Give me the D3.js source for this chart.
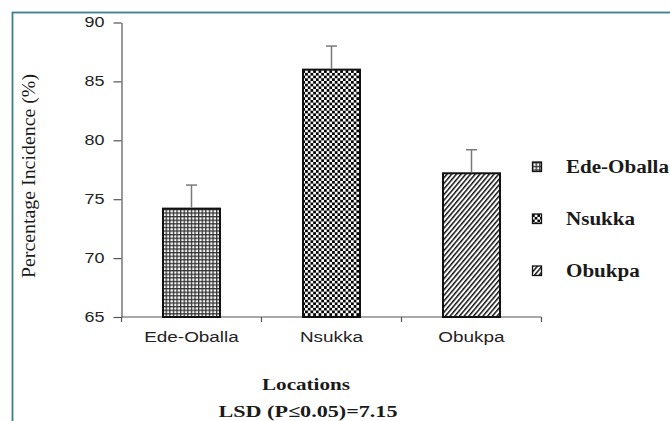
<!DOCTYPE html>
<html>
<head>
<meta charset="utf-8">
<script src="https://cdn.jsdelivr.net/npm/d3@7"></script>
<style>
  html, body { margin: 0; padding: 0; background: #fff; }
  svg { display: block; }
</style>
</head>
<body>
<svg id="chart" width="670" height="421"></svg>
<script>
// Percentage incidence by location, with upper error bars (SE)
const categories = ["Ede-Oballa", "Nsukka", "Obukpa"];
const values = [74.2, 86.0, 77.2];
const errors = [2.0, 2.0, 2.0];
const yTicks = [65, 70, 75, 80, 85, 90];
const patternIds = ["grid", "checker", "diag"];

const svg = d3.select("#chart");
const W = 670, H = 421;

// Plot area
const plot = { left: 121.5, right: 541.5, top: 22.5, bottom: 317 };

const x = d3.scaleBand().domain(categories).range([plot.left, plot.right])
  .paddingInner(0.593).paddingOuter(0.2965);
const y = d3.scaleLinear().domain([65, 90]).range([plot.bottom, plot.top]);

// Horizontal widening applied to text
function stretch(sel, k) {
  sel.each(function () {
    const len = this.getComputedTextLength();
    this.setAttribute("textLength", (len * k).toFixed(2));
    this.setAttribute("lengthAdjust", "spacingAndGlyphs");
  });
}
function fitTo(sel, w) {
  sel.attr("textLength", w).attr("lengthAdjust", "spacingAndGlyphs");
}

// Fill patterns
const defs = svg.append("defs");
const pg = defs.append("pattern").attr("id", "grid").attr("patternUnits", "userSpaceOnUse")
  .attr("width", 3.6).attr("height", 3.6);
pg.append("rect").attr("width", 3.6).attr("height", 3.6).attr("fill", "#fff");
pg.append("rect").attr("width", 1.3).attr("height", 3.6).attr("fill", "#333");
pg.append("rect").attr("width", 3.6).attr("height", 1.3).attr("fill", "#333");

const pc = defs.append("pattern").attr("id", "checker").attr("patternUnits", "userSpaceOnUse")
  .attr("width", 5.4).attr("height", 5.4);
pc.append("rect").attr("width", 5.4).attr("height", 5.4).attr("fill", "#fff");
pc.append("rect").attr("width", 2.7).attr("height", 2.7).attr("fill", "#000");
pc.append("rect").attr("x", 2.7).attr("y", 2.7).attr("width", 2.7).attr("height", 2.7).attr("fill", "#000");

const pd = defs.append("pattern").attr("id", "diag").attr("patternUnits", "userSpaceOnUse")
  .attr("width", 3.6).attr("height", 10).attr("patternTransform", "rotate(40)");
pd.append("rect").attr("width", 3.6).attr("height", 10).attr("fill", "#fff");
pd.append("rect").attr("width", 1.5).attr("height", 10).attr("fill", "#111");

// Outer frame
svg.append("rect")
  .attr("x", 12.5).attr("y", 12.5).attr("width", W + 20).attr("height", H + 20)
  .attr("fill", "none").attr("stroke", "#3a7f92").attr("stroke-width", 1.8);

// Y axis
const yAxis = svg.append("g")
  .attr("transform", `translate(${plot.left},0)`)
  .call(d3.axisLeft(y).tickValues(yTicks).tickSize(8).tickSizeOuter(0).tickPadding(9));
yAxis.select(".domain").attr("stroke", "#555").attr("stroke-width", 1.2);
yAxis.selectAll(".tick line").attr("stroke", "#555").attr("stroke-width", 1.2);
yAxis.selectAll(".tick text")
  .attr("font-family", "Liberation Sans, Arial, sans-serif")
  .attr("font-size", 14).attr("fill", "#222");
stretch(yAxis.selectAll(".tick text"), 1.28);

// X axis: baseline with ticks at category boundaries
const step = x.step();
const bounds = d3.range(categories.length + 1).map(i => x.range()[0] + i * step);
svg.append("line")
  .attr("x1", plot.left).attr("x2", plot.right).attr("y1", y(65)).attr("y2", y(65))
  .attr("stroke", "#555").attr("stroke-width", 1.2);
svg.append("g").selectAll("line").data(bounds).join("line")
  .attr("x1", d => d).attr("x2", d => d)
  .attr("y1", y(65)).attr("y2", y(65) + 5)
  .attr("stroke", "#555").attr("stroke-width", 1.2);
const xl = svg.append("g").selectAll("text").data(categories).join("text")
  .attr("x", d => x(d) + x.bandwidth() / 2).attr("y", 342)
  .attr("text-anchor", "middle")
  .attr("font-family", "Liberation Sans, Arial, sans-serif")
  .attr("font-size", 15.5).attr("fill", "#222")
  .text(d => d);
stretch(xl, 1.22);

// Bars
svg.append("g").selectAll("rect").data(categories).join("rect")
  .attr("x", d => x(d))
  .attr("y", (d, i) => y(values[i]))
  .attr("width", x.bandwidth())
  .attr("height", (d, i) => y(65) - y(values[i]))
  .attr("fill", (d, i) => `url(#${patternIds[i]})`)
  .attr("stroke", "#111").attr("stroke-width", 2);

// Error bars (upper)
const eb = svg.append("g").attr("stroke", "#7a7a7a").attr("stroke-width", 1.5);
eb.selectAll("line.v").data(categories).join("line").attr("class", "v")
  .attr("x1", d => x(d) + x.bandwidth() / 2).attr("x2", d => x(d) + x.bandwidth() / 2)
  .attr("y1", (d, i) => y(values[i]) - 1).attr("y2", (d, i) => y(values[i] + errors[i]));
eb.selectAll("line.c").data(categories).join("line").attr("class", "c")
  .attr("x1", d => x(d) + x.bandwidth() / 2 - 5.5).attr("x2", d => x(d) + x.bandwidth() / 2 + 5.5)
  .attr("y1", (d, i) => y(values[i] + errors[i])).attr("y2", (d, i) => y(values[i] + errors[i]));

// Legend
const legend = svg.append("g").attr("transform", "translate(532,0)");
const li = legend.selectAll("g").data(categories).join("g")
  .attr("transform", (d, i) => `translate(0,${173 + i * 52})`);
li.append("rect")
  .attr("x", 0.5).attr("y", -11).attr("width", 9).attr("height", 9.5)
  .attr("fill", (d, i) => `url(#${patternIds[i]})`)
  .attr("stroke", "#111").attr("stroke-width", 1.3);
const lt = li.append("text")
  .attr("x", 34).attr("y", 0)
  .attr("font-family", "Liberation Serif, Times New Roman, serif")
  .attr("font-weight", "bold").attr("font-size", 18).attr("fill", "#1a1a1a")
  .text(d => d);
stretch(lt, 1.17);

// Axis titles
const yt = svg.append("text")
  .attr("transform", "translate(34.5,176) rotate(-90)")
  .attr("text-anchor", "middle")
  .attr("font-family", "Liberation Serif, Times New Roman, serif")
  .attr("font-size", 18).attr("fill", "#1a1a1a")
  .text("Percentage Incidence (%)");
fitTo(yt, 204);

const xt = svg.append("text")
  .attr("x", 306).attr("y", 390).attr("text-anchor", "middle")
  .attr("font-family", "Liberation Serif, Times New Roman, serif")
  .attr("font-weight", "bold").attr("font-size", 17.5).attr("fill", "#1a1a1a")
  .text("Locations");
fitTo(xt, 88);

const lsd = svg.append("text")
  .attr("x", 308).attr("y", 416.5).attr("text-anchor", "middle")
  .attr("font-family", "Liberation Serif, Times New Roman, serif")
  .attr("font-weight", "bold").attr("font-size", 17).attr("fill", "#1a1a1a")
  .text("LSD (P≤0.05)=7.15");
fitTo(lsd, 179);
</script>
</body>
</html>
